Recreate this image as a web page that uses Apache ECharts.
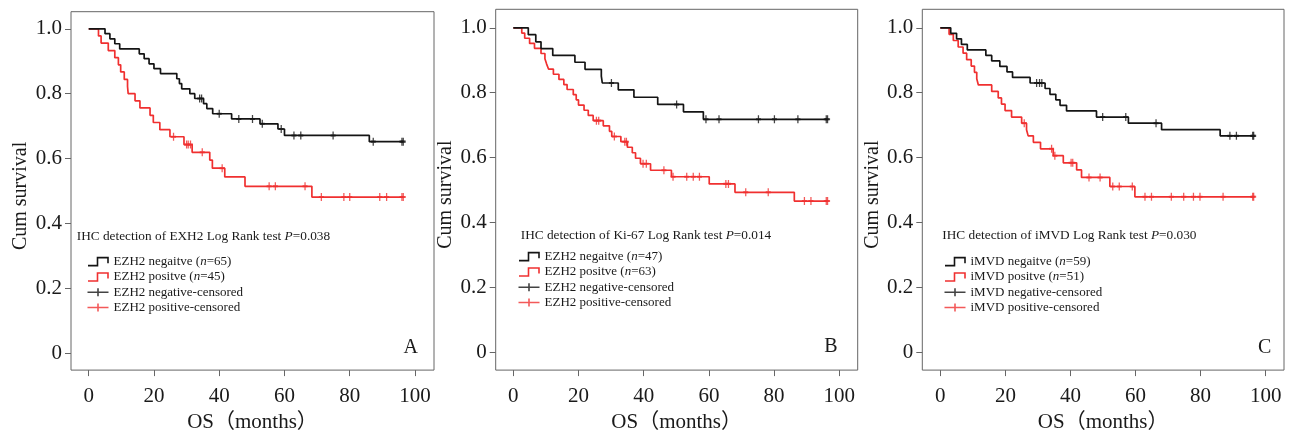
<!DOCTYPE html>
<html><head><meta charset="utf-8">
<script src="https://cdn.jsdelivr.net/npm/echarts@6/dist/echarts.min.js"></script>
<style>html,body{margin:0;padding:0;background:#fff}#c{width:1292px;height:438px}</style>
</head><body><div id="c"></div>
<script>
// ---------------- data ----------------
const xTicks = [0, 20, 40, 60, 80, 100];
const yTicks = [0, 0.2, 0.4, 0.6, 0.8, 1.0];
const yTickLabels = ['0', '0.2', '0.4', '0.6', '0.8', '1.0'];
const xAxisName = 'OS（months）';
const yAxisName = 'Cum survival';
const panelLetters = ['A', 'B', 'C'];
const testTitles = [
  'IHC detection of EXH2 Log Rank test {i|P}=0.038',
  'IHC detection of Ki-67 Log Rank test {i|P}=0.014',
  'IHC detection of iMVD Log Rank test {i|P}=0.030'
];
const groupLabels = [
  ['EZH2 negaitve (n=65)', 'EZH2 positve (n=45)', 'EZH2 negative-censored', 'EZH2 positive-censored'],
  ['EZH2 negaitve (n=47)', 'EZH2 positve (n=63)', 'EZH2 negative-censored', 'EZH2 positive-censored'],
  ['iMVD negaitve (n=59)', 'iMVD positve (n=51)', 'iMVD negative-censored', 'iMVD positive-censored']
];

// Panel A (EZH2)
const aNegSteps = [[0,1],[5,0.985],[6.5,0.969],[8,0.954],[9.5,0.938],[15.5,0.923],[17,0.908],[18.5,0.892],[20,0.877],[22,0.862],[27,0.846],[27.8,0.831],[28.5,0.815],[31,0.800],[32.5,0.785],[35.2,0.769],[36.2,0.754],[38,0.738],[43.8,0.722],[52.5,0.707],[58,0.691],[60,0.671],[86,0.652],[96.4,0.652]];
const aNegCensor = [[34,0.785],[34.6,0.785],[40,0.738],[46,0.722],[50.2,0.722],[53.2,0.707],[59,0.691],[62.9,0.671],[65,0.671],[74.9,0.671],[87.2,0.652],[96,0.652],[96.4,0.652]];
const aPosSteps = [[0,1],[3,0.978],[3.8,0.956],[6,0.933],[8,0.911],[9.1,0.889],[9.8,0.867],[10.9,0.844],[11.9,0.822],[12.1,0.800],[14.2,0.778],[15.7,0.756],[18.8,0.733],[19.8,0.711],[21.8,0.689],[24.9,0.667],[29.2,0.643],[31.7,0.619],[37.1,0.595],[37.9,0.570],[41.7,0.543],[47.9,0.514],[68.4,0.481],[96.4,0.481]];
const aPosCensor = [[26,0.667],[30,0.643],[30.5,0.643],[31.2,0.643],[34.8,0.619],[40.9,0.570],[55.3,0.514],[57.2,0.514],[66.3,0.514],[71.3,0.481],[78.2,0.481],[80,0.481],[89.2,0.481],[91.3,0.481],[96,0.481],[96.4,0.481]];

// Panel B (Ki-67)
const bNegSteps = [[0,1],[4.6,0.979],[6.9,0.957],[8.5,0.936],[12.1,0.915],[18.9,0.894],[22,0.872],[27,0.851],[27.3,0.830],[32.2,0.809],[37,0.786],[44.3,0.764],[52.2,0.741],[58.3,0.718],[96.4,0.718]];
const bNegCensor = [[30.1,0.830],[50.1,0.764],[59.1,0.718],[63.1,0.718],[75.2,0.718],[80.1,0.718],[87.3,0.718],[96,0.718],[96.4,0.718]];
const bPosSteps = [[0,1],[2.6,0.984],[3.5,0.968],[5,0.952],[6.5,0.937],[8.5,0.921],[9.7,0.905],[10.2,0.889],[10.8,0.873],[12.3,0.857],[14,0.841],[15.5,0.825],[16.5,0.810],[18.4,0.794],[19.3,0.778],[20,0.762],[21.7,0.746],[23,0.730],[24.5,0.714],[27.6,0.698],[29.5,0.681],[30.2,0.665],[33,0.649],[35,0.632],[36.5,0.615],[37.5,0.598],[39,0.581],[42.1,0.561],[48.5,0.541],[60.1,0.519],[68,0.493],[86.2,0.466],[96.4,0.466]];
const bPosCensor = [[25.5,0.714],[26.2,0.714],[31,0.665],[34.2,0.649],[34.7,0.649],[39.8,0.581],[40.8,0.581],[46.2,0.561],[49,0.541],[53.2,0.541],[55.2,0.541],[57.1,0.541],[65.2,0.519],[66,0.519],[71.3,0.493],[78.2,0.493],[89.3,0.466],[91.3,0.466],[96,0.466],[96.4,0.466]];

// Panel C (iMVD)
const cNegSteps = [[0,1],[3.2,0.983],[5,0.966],[6.5,0.949],[8.3,0.932],[14,0.915],[15.8,0.898],[18.3,0.881],[20.5,0.864],[22.2,0.847],[27.6,0.830],[32.2,0.813],[33.7,0.795],[35.5,0.778],[36.8,0.761],[38.8,0.744],[48,0.725],[57.8,0.706],[68,0.686],[86,0.667],[96.3,0.667]];
const cNegCensor = [[29.6,0.830],[30.5,0.830],[31.2,0.830],[49.9,0.725],[57,0.725],[66.3,0.706],[89,0.667],[91,0.667],[96,0.667],[96.3,0.667]];
const cPosSteps = [[0,1],[2.7,0.980],[4,0.961],[5.5,0.941],[7,0.922],[8.1,0.902],[9.5,0.882],[10.5,0.863],[11.2,0.843],[11.7,0.824],[15.8,0.804],[17.8,0.784],[18.8,0.765],[19.9,0.745],[21.9,0.725],[25,0.706],[26.5,0.686],[27,0.667],[28.6,0.647],[30.8,0.627],[34.7,0.606],[37.8,0.584],[41.9,0.562],[43.4,0.539],[52.1,0.511],[59.8,0.479],[96.3,0.479]];
const cPosCensor = [[25.8,0.706],[34.2,0.627],[35.2,0.606],[40.2,0.584],[40.7,0.584],[45.7,0.539],[49.1,0.539],[53,0.511],[55,0.511],[59,0.511],[62.9,0.479],[64.9,0.479],[71,0.479],[74.8,0.479],[77.8,0.479],[79.8,0.479],[86.9,0.479],[96,0.479],[96.3,0.479]];

// ---------------- layout / style ----------------
const FONT = "'Liberation Serif','Times New Roman','Noto Sans CJK SC',serif";
const BLACK = '#141414', RED = '#f03030', FRAME = '#666666', TEXT = '#1a1a1a';
const STEP_ICON = 'path://M0,8 L9.5,8 L9.5,0 L20,0 L20,5.5';
const PLUS_ICON = 'path://M0,4 L21,4 M10.5,0 L10.5,8';
const CENSOR_SYMBOL = 'path://M0,5 L6,5 M3,0 L3,10';

// frame box and calibration pixels (x of t=0 / t=100, y of S=0 / S=1)
const frames = [
  {left:71,    top:11.7, right:434,   bottom:374,   x0:88.7,  x100:415,    y0:356.7, y1:29},
  {left:495.7, top:9.3,  right:857.7, bottom:373,   x0:513.3, x100:839.3,  y0:355,   y1:28},
  {left:922.3, top:9.3,  right:1284,  bottom:373.3, x0:940.3, x100:1265.7, y0:355.3, y1:28}
];
const titlePos  = [{left:76.7, top:229}, {left:520.7, top:228.5}, {left:942.3, top:228.5}];
const legendPos = [{left:85, top:254}, {left:516, top:249}, {left:942, top:254}];
const letterPos = [{left:403.5, top:338}, {left:824.2, top:337}, {left:1258.1, top:338}];

const panelData = [
  [aNegSteps, aPosSteps, aNegCensor, aPosCensor],
  [bNegSteps, bPosSteps, bNegCensor, bPosCensor],
  [cNegSteps, cPosSteps, cNegCensor, cPosCensor]
];

const option = {
  animation: false,
  backgroundColor: '#fff',
  grid: [], xAxis: [], yAxis: [], series: [], legend: [], title: []
};

frames.forEach((f, i) => {
  const xmin = (f.left - f.x0) / (f.x100 - f.x0) * 100;
  const xmax = (f.right - f.x0) / (f.x100 - f.x0) * 100;
  const ymin = (f.y0 - f.bottom) / (f.y0 - f.y1);
  const ymax = (f.y0 - f.top) / (f.y0 - f.y1);
  option.grid.push({
    left: f.left, top: f.top, width: f.right - f.left, height: f.bottom - f.top,
    show: true, borderColor: FRAME, borderWidth: 1, backgroundColor: 'transparent', containLabel: false
  });
  option.xAxis.push({
    type: 'value', gridIndex: i, min: xmin, max: xmax, position: 'bottom',
    axisLine: {show: false, onZero: false},
    axisTick: {show: true, length: 6, customValues: xTicks, lineStyle: {color: FRAME, width: 1}},
    axisLabel: {customValues: xTicks, margin: 16, color: TEXT, fontFamily: FONT, fontSize: 21, lineHeight: 21},
    splitLine: {show: false},
    name: xAxisName, nameLocation: 'middle', nameGap: 37,
    nameTextStyle: {fontFamily: FONT, fontSize: 21, color: TEXT, lineHeight: 21}
  });
  option.yAxis.push({
    type: 'value', gridIndex: i, min: ymin, max: ymax, position: 'left',
    axisLine: {show: false, onZero: false},
    axisTick: {show: true, length: 6, customValues: yTicks, lineStyle: {color: FRAME, width: 1}},
    axisLabel: {customValues: yTicks, margin: 9, color: TEXT, fontFamily: FONT, fontSize: 21, lineHeight: 21,
      padding: [4, 0, 0, 0],
      formatter: v => yTickLabels[yTicks.findIndex(t => Math.abs(t - v) < 1e-6)]},
    splitLine: {show: false},
    name: yAxisName, nameLocation: 'middle', nameGap: 40,
    nameTextStyle: {fontFamily: FONT, fontSize: 20, color: TEXT, lineHeight: 20, padding: [0, 10, 0, 0]}
  });

  const labels = groupLabels[i];
  const names = labels.map(l => panelLetters[i] + '|' + l);
  const [negSteps, posSteps, negCens, posCens] = panelData[i];
  option.series.push(
    {type: 'line', name: names[0], xAxisIndex: i, yAxisIndex: i, data: negSteps, step: 'end', showSymbol: false, symbol: 'none',
     lineStyle: {color: BLACK, width: 1.7}, itemStyle: {color: BLACK}, z: 3},
    {type: 'line', name: names[1], xAxisIndex: i, yAxisIndex: i, data: posSteps, step: 'end', showSymbol: false, symbol: 'none',
     lineStyle: {color: RED, width: 1.7}, itemStyle: {color: RED}, z: 2},
    {type: 'scatter', name: names[2], xAxisIndex: i, yAxisIndex: i, data: negCens, symbol: CENSOR_SYMBOL, symbolSize: [5, 8],
     itemStyle: {color: 'none', borderColor: BLACK, borderWidth: 1.6}, z: 4},
    {type: 'scatter', name: names[3], xAxisIndex: i, yAxisIndex: i, data: posCens, symbol: CENSOR_SYMBOL, symbolSize: [5, 8],
     itemStyle: {color: 'none', borderColor: RED, borderWidth: 1.6}, z: 4}
  );

  const italicStyle = {fontStyle: 'italic', fontFamily: FONT, fontSize: 13, color: TEXT, lineHeight: 15.3};
  option.legend.push({
    orient: 'vertical', left: legendPos[i].left, top: legendPos[i].top, padding: 0, itemGap: 0,
    itemWidth: 21, itemHeight: 8, selectedMode: false,
    data: [
      {name: names[0], icon: STEP_ICON, itemStyle: {color: 'none', borderColor: BLACK, borderWidth: 1.6}},
      {name: names[1], icon: STEP_ICON, itemStyle: {color: 'none', borderColor: RED, borderWidth: 1.6}},
      {name: names[2], icon: PLUS_ICON, itemStyle: {color: 'none', borderColor: BLACK, borderWidth: 1.6}},
      {name: names[3], icon: PLUS_ICON, itemStyle: {color: 'none', borderColor: RED, borderWidth: 1.6}}
    ],
    formatter: n => n.split('|')[1].replace('(n=', '({i|n}='),
    textStyle: {fontFamily: FONT, fontSize: 13, color: TEXT, lineHeight: 15.3, rich: {i: italicStyle}}
  });
  option.title.push({
    text: testTitles[i], left: titlePos[i].left, top: titlePos[i].top, padding: 0,
    textStyle: {fontFamily: FONT, fontSize: 13.3, fontWeight: 'normal', color: TEXT, lineHeight: 15,
      rich: {i: {fontStyle: 'italic', fontFamily: FONT, fontSize: 13.3, color: TEXT, lineHeight: 15}}}
  });
  option.title.push({
    text: panelLetters[i], left: letterPos[i].left, top: letterPos[i].top, padding: 0,
    textStyle: {fontFamily: FONT, fontSize: 20, fontWeight: 'normal', color: TEXT, lineHeight: 20}
  });
});

const chart = echarts.init(document.getElementById('c'), null, {renderer: 'canvas'});
chart.setOption(option);
</script>
</body></html>
